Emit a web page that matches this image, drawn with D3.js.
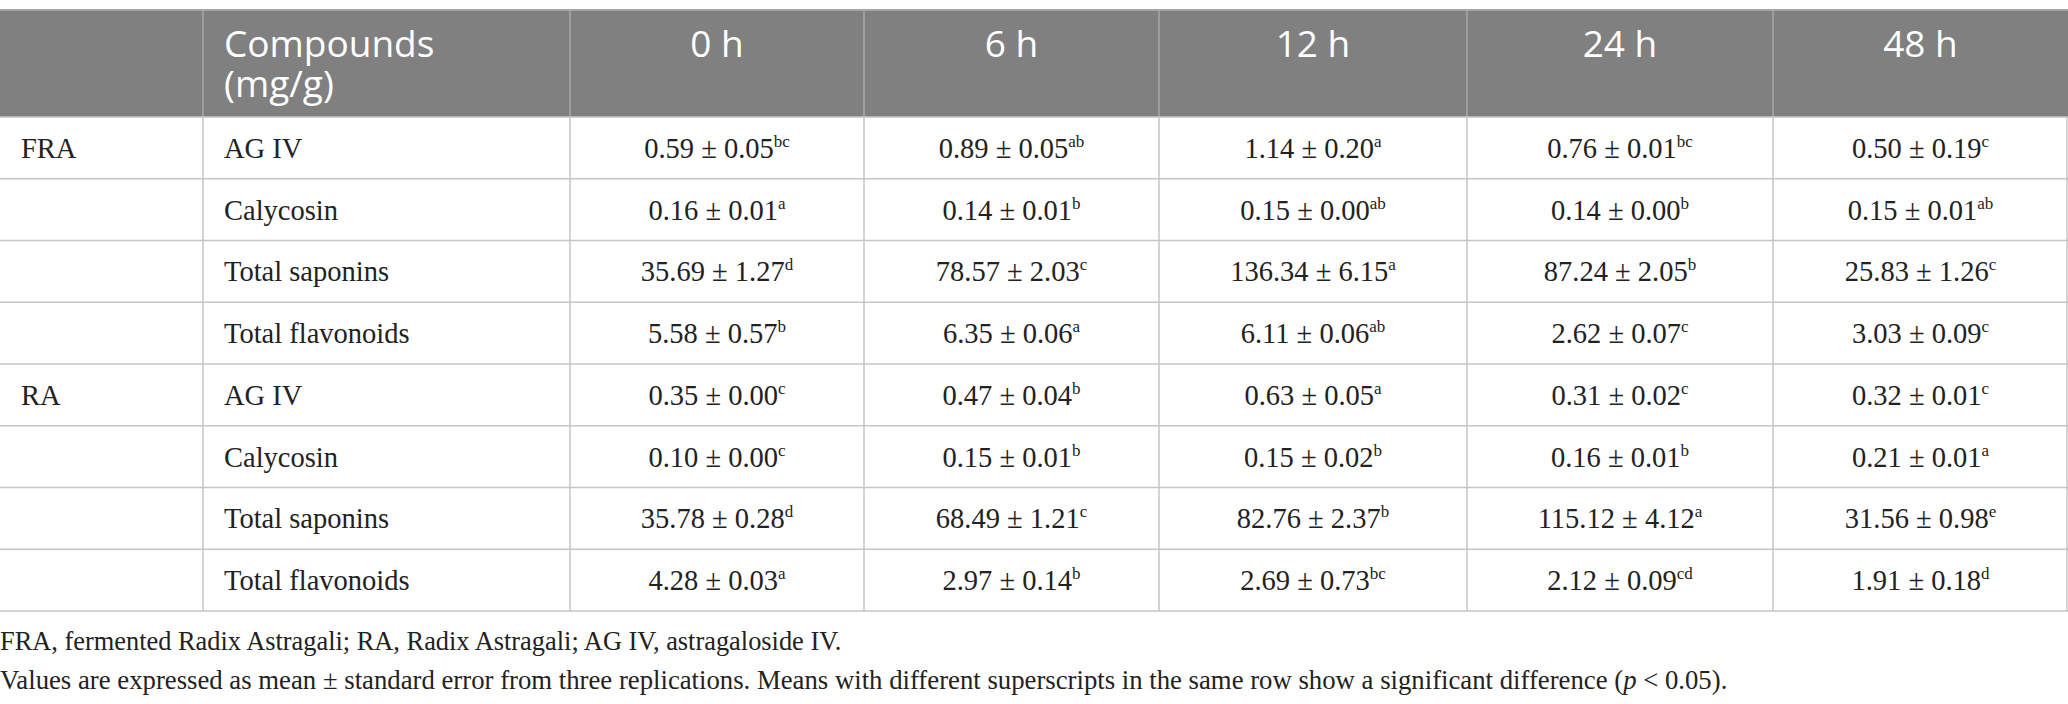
<!DOCTYPE html>
<html>
<head>
<meta charset="utf-8">
<script src="https://cdn.jsdelivr.net/npm/d3@7"></script>
<style>
  body { margin: 0; background: #fff; }
  svg { display: block; }
</style>
</head>
<body>
<div class="box"></div>
<script>
// data
const groups = ['FRA', 'RA'];
const compounds = ['AG IV', 'Calycosin', 'Total saponins', 'Total flavonoids'];
const times = ['0 h', '6 h', '12 h', '24 h', '48 h'];

const fraMeans = [
  [0.59, 0.89, 1.14, 0.76, 0.50],
  [0.16, 0.14, 0.15, 0.14, 0.15],
  [35.69, 78.57, 136.34, 87.24, 25.83],
  [5.58, 6.35, 6.11, 2.62, 3.03]
];
const fraErrors = [
  [0.05, 0.05, 0.20, 0.01, 0.19],
  [0.01, 0.01, 0.00, 0.00, 0.01],
  [1.27, 2.03, 6.15, 2.05, 1.26],
  [0.57, 0.06, 0.06, 0.07, 0.09]
];
const fraLetters = [
  ['bc', 'ab', 'a', 'bc', 'c'],
  ['a', 'b', 'ab', 'b', 'ab'],
  ['d', 'c', 'a', 'b', 'c'],
  ['b', 'a', 'ab', 'c', 'c']
];
const raMeans = [
  [0.35, 0.47, 0.63, 0.31, 0.32],
  [0.10, 0.15, 0.15, 0.16, 0.21],
  [35.78, 68.49, 82.76, 115.12, 31.56],
  [4.28, 2.97, 2.69, 2.12, 1.91]
];
const raErrors = [
  [0.00, 0.04, 0.05, 0.02, 0.01],
  [0.00, 0.01, 0.02, 0.01, 0.01],
  [0.28, 1.21, 2.37, 4.12, 0.98],
  [0.03, 0.14, 0.73, 0.09, 0.18]
];
const raLetters = [
  ['c', 'b', 'a', 'c', 'c'],
  ['c', 'b', 'b', 'b', 'a'],
  ['d', 'c', 'b', 'a', 'e'],
  ['a', 'b', 'bc', 'cd', 'd']
];

const note1 = 'FRA, fermented Radix Astragali; RA, Radix Astragali; AG IV, astragaloside IV.';
const note2a = 'Values are expressed as mean \u00b1 standard error from three replications. Means with different superscripts in the same row show a significant difference (';
const note2b = ' < 0.05).';

// build rows
const rows = [];
groups.forEach((g, gi) => {
  const m = gi === 0 ? fraMeans : raMeans;
  const e = gi === 0 ? fraErrors : raErrors;
  const l = gi === 0 ? fraLetters : raLetters;
  compounds.forEach((c, ci) => {
    rows.push({
      group: ci === 0 ? g : '',
      compound: c,
      cells: times.map((t, ti) => ({ mean: m[ci][ti], err: e[ci][ti], sig: l[ci][ti] }))
    });
  });
});

// layout
const W = 2068, H = 704;
const tableTop = 10, headBottom = 117, tableBottom = 611;
const colEdges = [0, 203, 570, 864, 1159, 1467, 1773, 2068];
const serif = '"Liberation Serif", "DejaVu Serif", serif';
const sans = '"Open Sans", "Noto Sans", sans-serif';

const svg = d3.select('.box')
  .append('svg')
  .attr('width', W)
  .attr('height', H);

const y = d3.scaleBand()
  .domain(d3.range(rows.length))
  .range([headBottom, tableBottom])
  .padding(0);

const colL = i => colEdges[i];
const colC = i => (colEdges[i] + colEdges[i + 1]) / 2;

// header
svg.append('rect')
  .attr('x', 0).attr('y', tableTop)
  .attr('width', W).attr('height', headBottom - tableTop)
  .attr('fill', '#808080');
svg.append('line')
  .attr('x1', 0).attr('x2', W)
  .attr('y1', tableTop).attr('y2', tableTop)
  .attr('stroke', '#a6a6a6').attr('stroke-width', 2);

svg.append('g')
  .selectAll('line')
  .data(colEdges.slice(1, -1))
  .join('line')
  .attr('x1', d => d).attr('x2', d => d)
  .attr('y1', tableTop).attr('y2', headBottom)
  .attr('stroke', '#a9a9a9').attr('stroke-width', 1.5);

const head = svg.append('g')
  .attr('font-family', sans)
  .attr('font-size', 37)
  .attr('fill', '#fff');
const comp = head.append('text')
  .attr('x', colL(1) + 21).attr('y', 57);
comp.append('tspan').text('Compounds');
comp.append('tspan')
  .attr('x', colL(1) + 21).attr('dy', 40)
  .text('(mg/g)');
head.selectAll('.time')
  .data(times)
  .join('text')
  .attr('class', 'time')
  .attr('x', (d, i) => colC(i + 2))
  .attr('y', 57)
  .attr('text-anchor', 'middle')
  .text(d => d);

// body grid
const grid = svg.append('g')
  .attr('stroke', '#c6c6c6')
  .attr('stroke-width', 1.5);
grid.selectAll('.h')
  .data(d3.range(rows.length + 1))
  .join('line')
  .attr('class', 'h')
  .attr('x1', 0).attr('x2', W)
  .attr('y1', d => d < rows.length ? y(d) : tableBottom)
  .attr('y2', d => d < rows.length ? y(d) : tableBottom);
grid.selectAll('.v')
  .data(colEdges.slice(1))
  .join('line')
  .attr('class', 'v')
  .attr('x1', d => Math.min(d, W - 1)).attr('x2', d => Math.min(d, W - 1))
  .attr('y1', headBottom).attr('y2', tableBottom);

// body text
const body = svg.append('g')
  .attr('font-family', serif)
  .attr('font-size', 28.5)
  .attr('fill', '#222');

const rowG = body.selectAll('.row')
  .data(rows)
  .join('g')
  .attr('class', 'row')
  .attr('transform', (d, i) => `translate(0,${y(i) + y.bandwidth() / 2 + 10})`);

rowG.append('text')
  .attr('x', 21)
  .text(d => d.group);
rowG.append('text')
  .attr('x', colL(1) + 21)
  .text(d => d.compound);

const fmt = d3.format('.2f');
rowG.selectAll('.val')
  .data(d => d.cells)
  .join('text')
  .attr('class', 'val')
  .attr('x', (d, i) => colC(i + 2))
  .attr('text-anchor', 'middle')
  .each(function (d) {
    const t = d3.select(this);
    t.append('tspan').text(`${fmt(d.mean)} \u00b1 ${fmt(d.err)}`);
    t.append('tspan')
      .attr('font-size', 17)
      .attr('dy', -11)
      .text(d.sig);
  });

// footnotes, each line sized to the width it has in the figure
const notes = svg.append('g')
  .attr('font-family', serif)
  .attr('fill', '#222');
const fit = (sel, target) => {
  sel.attr('font-size', 25);
  const w = sel.node().getComputedTextLength();
  if (w > 0) sel.attr('font-size', 25 * target / w);
};
const n1 = notes.append('text')
  .attr('x', 0).attr('y', 650)
  .text(note1);
fit(n1, 842);
const n2 = notes.append('text')
  .attr('x', 0).attr('y', 689);
n2.append('tspan').text(note2a);
n2.append('tspan').attr('font-style', 'italic').text('p');
n2.append('tspan').text(note2b);
fit(n2, 1728);
</script>
</body>
</html>
